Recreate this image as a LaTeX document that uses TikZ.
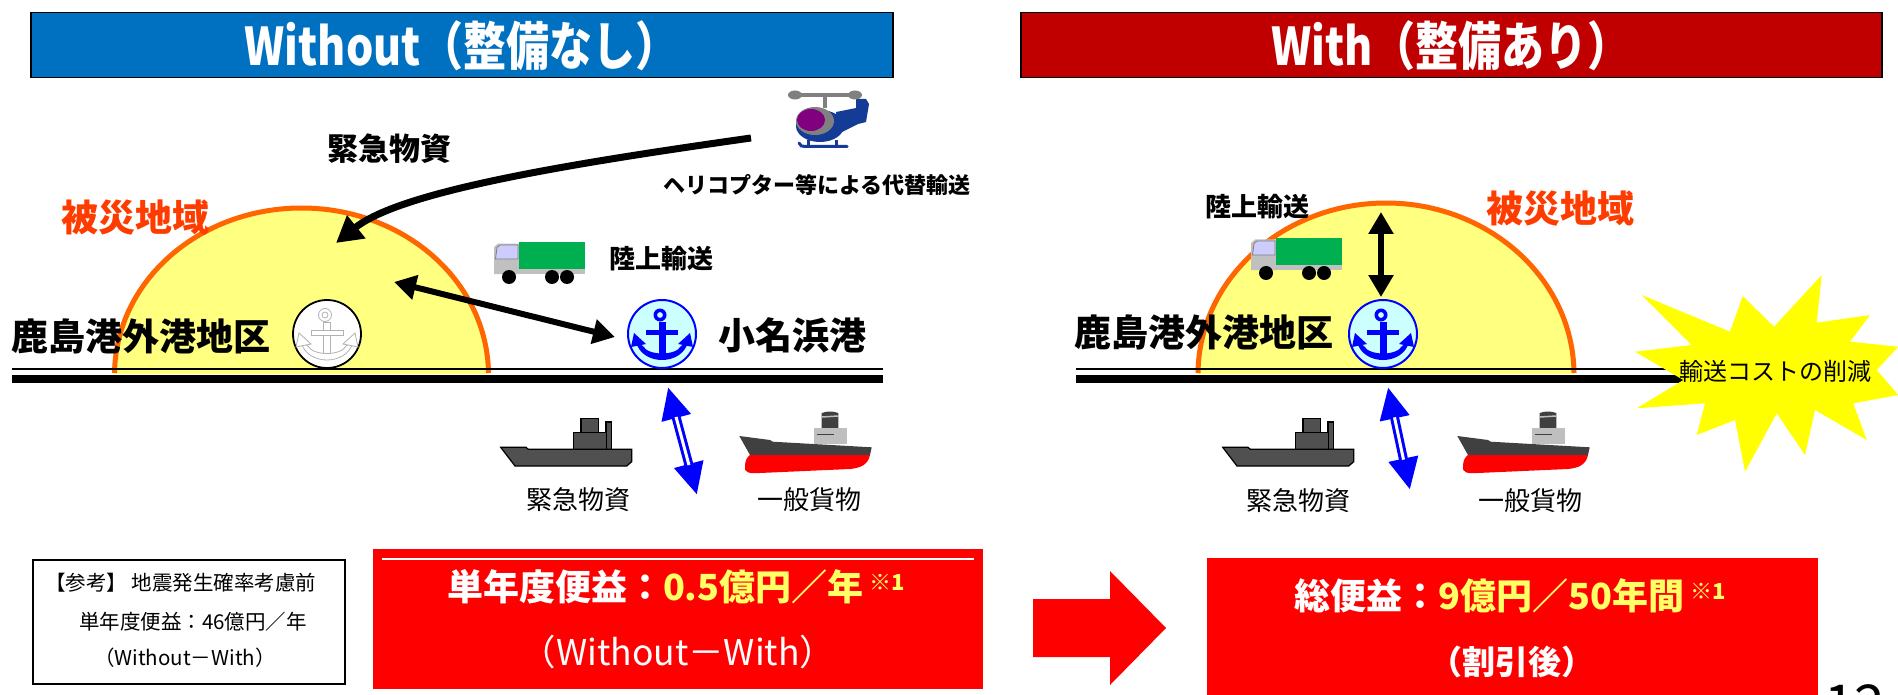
\documentclass[tikz,border=0pt]{standalone}
\usepackage{fontspec}
\setmainfont{Noto Sans CJK JP}
\usetikzlibrary{arrows.meta}

\definecolor{titleblue}{RGB}{0,112,192}
\definecolor{titlered}{RGB}{192,0,0}
\definecolor{boxred}{RGB}{255,0,0}
\definecolor{hlyellow}{RGB}{255,255,102}
\definecolor{zonefill}{RGB}{255,255,128}
\definecolor{zoneedge}{RGB}{255,102,0}
\definecolor{zonetext}{RGB}{255,60,0}
\definecolor{portcyan}{RGB}{204,255,255}
\definecolor{portblue}{RGB}{0,0,255}
\definecolor{cargogreen}{RGB}{0,176,80}
\definecolor{cabgray}{RGB}{192,192,192}
\definecolor{cabglass}{RGB}{204,204,255}
\definecolor{hullgray}{RGB}{80,80,80}
\definecolor{deckgray}{RGB}{64,64,64}
\definecolor{bridgegray}{RGB}{191,191,191}
\definecolor{heliblue}{RGB}{20,60,150}
\definecolor{helipurple}{RGB}{128,0,128}
\definecolor{heligray}{RGB}{128,128,128}
\definecolor{burst}{RGB}{255,255,0}

\newcommand{\fsz}[1]{\fontsize{#1}{#1}\selectfont}

\tikzset{
  txt/.style={inner sep=0pt, outer sep=0pt},
  titlebar/.style={draw=black, line width=1.5pt, minimum height=65pt, inner sep=0pt, anchor=north west},
  titletext/.style={txt, text=white, font=\fsz{50}\bfseries},
  bigjp/.style={txt, font=\fsz{37}\bfseries},
  zonelabel/.style={txt, text=zonetext, font=\fsz{37}\bfseries},
  landlabel/.style={txt, font=\fsz{26}\bfseries},
  cargolabel/.style={txt, font=\fsz{26}},
  quaythin/.style={line width=2.5pt},
  quaythick/.style={line width=8pt},
  zone/.style={fill=zonefill},
  zoneline/.style={draw=zoneedge, line width=5pt},
  port/.style={circle, draw=portblue, line width=2pt, fill=portcyan, minimum size=68pt, inner sep=0pt},
  oldport/.style={circle, draw=black, line width=1.8pt, fill=white, minimum size=68pt, inner sep=0pt},
  blackarrow/.style={line width=6pt, {Triangle[length=22pt,width=24pt]}-{Triangle[length=22pt,width=24pt]}},
  supplyarrow/.style={line width=7pt, -{Triangle[length=26pt,width=28pt]}},
  seaarrow/.style={portblue, line width=9pt, {Triangle[length=32pt,width=28pt]}-{Triangle[length=32pt,width=28pt]}},
  seagap/.style={white, line width=3pt, shorten <=31pt, shorten >=31pt},
  resultbox/.style={fill=boxred, minimum height=140pt, inner sep=0pt, anchor=north west},
  hull/.style={fill=hullgray, draw=black, line width=1.2pt},
  anchorglyph/.pic={
    \path[anchorpart, even odd rule] (-2,-19) circle[radius=6.5pt] (-2,-19) circle[radius=3pt];
    \path[anchorpart] (-3.5,-12) rectangle (3.5,22);
    \path[anchorpart] (-16,-4) rectangle (16,1);
    \path[anchorpart] (-26,8) .. controls (-20,32) and (20,32) .. (26,8) -- (19,12) .. controls (14,22) and (-14,22) .. (-19,12) -- cycle;
    \path[anchorpart] (-28,-1) -- (-16,10) -- (-31,13) -- cycle;
    \path[anchorpart] (28,-1) -- (16,10) -- (31,13) -- cycle;
  },
  truck/.pic={
    \fill[cabgray] (0,5) -- (4,1.5) -- (25,1.5) -- (25,32) -- (0,32) -- cycle;
    \filldraw[fill=cabglass, draw=gray, line width=0.8pt] (3,5.5) -- (6,3) -- (24,3) -- (24,17) -- (1.5,17) -- cycle;
    \fill[cargogreen] (25,0) rectangle (91,27);
    \fill[cabgray] (25,27) rectangle (91,32);
    \fill (15,35) circle[radius=7pt] (58,35) circle[radius=7pt] (73,35) circle[radius=7pt];
  },
  workboat/.pic={
    \path[hull] (106,4) rectangle (111.3,31.3);
    \path[hull] (81,0.7) rectangle (98.3,14.7);
    \path[hull] (73.3,14.7) rectangle (106.7,31.3);
    \path[hull] (0.7,29.3) -- (26,29.3) -- (28.3,31.3) -- (131.7,31.3) -- (131.7,43.7) -- (126.7,48) -- (15,48) -- cycle;
  },
  freighter/.pic={
    \fill[deckgray] (82.7,24) -- (82.7,7) .. controls (88,5) and (94,5) .. (99.3,7) -- (99.3,24) -- cycle;
    \draw[bridgegray, line width=1.5pt] (83,11) -- (99,10);
    \fill[bridgegray] (75,22.3) rectangle (108,38);
    \draw[deckgray, line width=1pt] (78,28) -- (95,28);
    \fill[deckgray] (0.3,30) -- (31,34) -- (33.7,35.7) -- (132.7,41.3) -- (131,49) -- (11,49) -- cycle;
    \fill[boxred] (11,49) -- (131,49) .. controls (129,59) and (121,62) .. (111,63) -- (21,67) .. controls (9,68) and (5,66) .. (6,60) .. controls (6,55) and (8,51) .. (11,49) -- cycle;
  },
}

\begin{document}
\begin{tikzpicture}[x=1pt, y=-1pt]
\useasboundingbox (0,0) rectangle (1898,695);
\clip (0,0) rectangle (1898,695);

% ---------- headings ----------
\node[titlebar, fill=titleblue, minimum width=862pt] (woTitle) at (30,12) {};
\node[titletext] (woTitleText) at (woTitle.center) {\scalebox{0.86}[1.04]{Without（整備なし）}};
\node[titlebar, fill=titlered, minimum width=861pt] (wTitle) at (1020,12) {};
\node[titletext] (wTitleText) at (wTitle.center) {\scalebox{0.86}[1.04]{With（整備あり）}};

% ---------- without: disaster zone and quay ----------
\path[zone] (114.5,374) .. controls (116,280) and (200,208) .. (301.5,208) .. controls (403,208) and (487,280) .. (488.5,374) -- cycle;
\draw[zoneline] (114.5,373) .. controls (116,280) and (200,208) .. (301.5,208) .. controls (403,208) and (487,280) .. (488.5,373);
\coordinate (quayLW) at (12,369);
\coordinate (quayLE) at (883,369);
\draw[quaythin] (quayLW) -- (quayLE);
\draw[quaythick] ([yshift=-10pt]quayLW) -- ([yshift=-10pt]quayLE);

\node[zonelabel] (zoneL) at (135,218) {被災地域};
\node[bigjp, anchor=west] (kashimaL) at (12,336) {鹿島港外港地区};
\node[oldport] (kashimaPortL) at (327,334) {};
\pic[anchorpart/.style={fill=white, draw=black!30, line width=0.8pt}] at (kashimaPortL.center) {anchorglyph};
\node[port] (onahama) at (662,334) {};
\pic[anchorpart/.style={fill=portblue}] at (onahama.center) {anchorglyph};
\node[bigjp, anchor=west] (onahamaLabel) at (718,335) {小名浜港};

% helicopter
\fill[heliblue] (836,112) -- (856,108) -- (856,99) -- (866,99) -- (869,104) -- (866,122) -- (858,124) -- (838,134) -- cycle;
\fill[heliblue] (820,126) ellipse[x radius=24pt, y radius=16pt];
\fill[heligray] (815,121) ellipse[x radius=19pt, y radius=14pt];
\fill[helipurple] (811,120) ellipse[x radius=14pt, y radius=11pt];
\draw[heligray, line width=4pt] (825,95) -- (825,108);
\draw[heligray, line width=4pt, line cap=round] (793,95) -- (857,95);
\fill[heligray] (795,95) ellipse[x radius=7pt, y radius=4.5pt] (855,95) ellipse[x radius=7pt, y radius=4.5pt];
\draw[heliblue, line width=3pt] (808,140) -- (808,146) (836,140) -- (836,146);
\draw[heliblue, line width=3pt, line cap=round] (799,143) .. controls (800,146) and (802,146.5) .. (805,146.5) -- (847,146.5);
\coordinate (heliTail) at (751,138);

\node[txt, font=\fsz{31}\bfseries] (reliefL) at (389,149) {緊急物資};
\node[txt, anchor=west, font=\fsz{22}\bfseries] (heliText) at (663,185) {ヘリコプター等による代替輸送};
\coordinate (zoneDrop) at (336,243);
\draw[supplyarrow] (heliTail) .. controls (560,165) and (400,192) .. (zoneDrop);

\pic at (494,242) {truck};
\node[landlabel, anchor=west] (landL) at (609,259) {陸上輸送};
\coordinate (roadW) at (394,282);
\coordinate (roadE) at (615,337);
\draw[blackarrow] (roadW) -- (roadE);

% sea side
\coordinate (seaLTop) at (668,387);
\coordinate (seaLBot) at (697,495);
\draw[seaarrow] (seaLTop) -- (seaLBot);
\draw[seagap] (seaLTop) -- (seaLBot);
\pic at (500,418) {workboat};
\pic at (739,406) {freighter};
\node[cargolabel] (reliefSeaL) at (578,500) {緊急物資};
\node[cargolabel] (cargoL) at (809,500) {一般貨物};

% ---------- with ----------
\path[zone] (1198,374) .. controls (1199,278) and (1284,203) .. (1386,203) .. controls (1488,203) and (1573,278) .. (1574,374) -- cycle;
\draw[zoneline] (1198,373) .. controls (1199,278) and (1284,203) .. (1386,203) .. controls (1488,203) and (1573,278) .. (1574,373);
\coordinate (quayRW) at (1076,369);
\coordinate (quayRE) at (1700,369);
\draw[quaythin] (quayRW) -- (quayRE);
\draw[quaythick] ([yshift=-10pt]quayRW) -- ([yshift=-10pt]quayRE);

\node[zonelabel] (zoneR) at (1560.5,209) {被災地域};
\node[landlabel] (landR) at (1257,207) {陸上輸送};
\pic at (1251,238) {truck};
\coordinate (liftTop) at (1381,212);
\coordinate (liftBot) at (1381,297);
\draw[blackarrow] (liftTop) -- (liftBot);
\node[bigjp, anchor=west] (kashimaR) at (1074,332) {鹿島港外港地区};
\node[port] (kashimaPortR) at (1383,334) {};
\pic[anchorpart/.style={fill=portblue}] at (kashimaPortR.center) {anchorglyph};

% cost reduction burst
\fill[burst] (1641.7,295) -- (1730,331.7) -- (1742.7,296) -- (1774,326.7) -- (1821.7,275) -- (1816.7,322.7) -- (1870,315) -- (1850,341.7) -- (1898.3,346.7) -- (1876.7,370) -- (1898.3,395) -- (1853.3,403.3) -- (1866.7,440) -- (1815,410) -- (1805,455) -- (1776.7,413.3) -- (1745,471.7) -- (1735,420) -- (1696.7,435) -- (1705,403.3) -- (1636.7,408.3) -- (1683.3,380) -- (1635,351.7) -- (1691.7,345) -- cycle;
\node[txt, font=\fsz{24}] (costCut) at (1775,371) {輸送コストの削減};

\coordinate (seaRTop) at (1388,387);
\coordinate (seaRBot) at (1410,490);
\draw[seaarrow] (seaRTop) -- (seaRBot);
\draw[seagap] (seaRTop) -- (seaRBot);
\pic at (1222,418) {workboat};
\pic at (1457,406) {freighter};
\node[cargolabel] (reliefSeaR) at (1298,501) {緊急物資};
\node[cargolabel] (cargoR) at (1530,501) {一般貨物};

% ---------- benefit summary ----------
\node[draw=black, line width=1.5pt, minimum width=312pt, minimum height=124pt, inner sep=0pt, anchor=north west] (refBox) at (32,559) {};
\node[txt, anchor=west, font=\fsz{20.5}] (refLine1) at (45,583) {【参考】 地震発生確率考慮前};
\node[txt, anchor=west, font=\fsz{20.5}] (refLine2) at (79,622) {単年度便益：46億円／年};
\node[txt, anchor=west, font=\fsz{20.5}] (refLine3) at (94,658) {（Without－With）};

\node[resultbox, minimum width=610pt] (annualBox) at (373,549) {};
\draw[white, line width=1.5pt] ([xshift=9pt, yshift=-10pt]annualBox.north west) -- ([xshift=-9pt, yshift=-10pt]annualBox.north east);
\node[txt, font=\fsz{36}\bfseries] (annualLine1) at (676,587) {\textcolor{white}{単年度便益：}\textcolor{hlyellow}{0.5億円／年\,\raisebox{10pt}{\fsz{22}※1}}};
\node[txt, text=white, font=\fsz{35.5}] (annualLine2) at (678,652) {（Without－With）};

\fill[boxred] (1033,599) -- (1110,599) -- (1110,571) -- (1166,628) -- (1110,685) -- (1110,657) -- (1033,657) -- cycle;

\node[resultbox, minimum width=611pt] (totalBox) at (1207,558) {};
\node[txt, font=\fsz{36}\bfseries] (totalLine1) at (1510,596) {\textcolor{white}{総便益：}\textcolor{hlyellow}{9億円／50年間\,\raisebox{10pt}{\fsz{22}※1}}};
\node[txt, text=white, font=\fsz{33}\bfseries] (totalLine2) at (1512,662) {（割引後）};

\node[txt, anchor=north west, font=\fsz{55}] (pageNo) at (1824,685) {12};
\end{tikzpicture}
\end{document}
